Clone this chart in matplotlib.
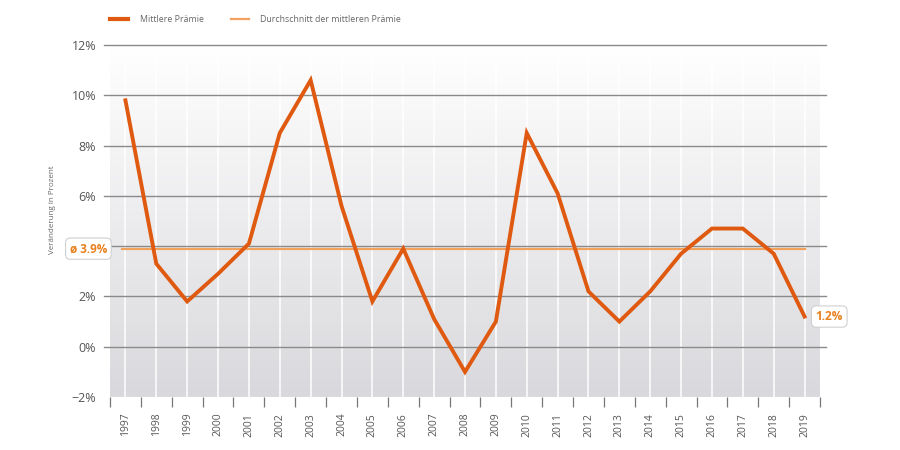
import numpy as np
import matplotlib
matplotlib.use("Agg")
import matplotlib.pyplot as plt
from matplotlib.transforms import blended_transform_factory
from matplotlib.colors import LinearSegmentedColormap

plt.rcParams['font.family'] = ['Open Sans', 'DejaVu Sans']

years = list(range(1997, 2020))
praemie = [9.8, 3.3, 1.8, 2.9, 4.1, 8.5, 10.6, 5.6, 1.8, 3.9, 1.1, -1.0, 1.0,
           8.5, 6.1, 2.2, 1.0, 2.2, 3.7, 4.7, 4.7, 3.7, 1.2]
durchschnitt = 3.9
yticks = [-2, 0, 2, 4, 6, 8, 10, 12]
ytick_labels = ['\u22122%', '0%', '2%', '', '6%', '8%', '10%', '12%']
legend_labels = ['Mittlere Prämie', 'Durchschnitt der mittleren Prämie']
ylabel = 'Veränderung in Prozent'

main_col = '#df5a10'
avg_col = '#f2a25c'
lab_col = '#e8801e'
txt_col = '#555555'

fig = plt.figure(figsize=(9, 4.5), dpi=100)
ax = fig.add_axes([110/900, 53/450, 710/900, 352/450])
ax.set_xlim(years[0] - 0.5, years[-1] + 0.5)
ax.set_ylim(-2, 12)

# gradient background
grad = np.linspace(0, 1, 256).reshape(-1, 1)
cmap = LinearSegmentedColormap.from_list('g', ['#d9d9dd', '#ffffff'])
ax.imshow(grad, aspect='auto', cmap=cmap, origin='lower',
          extent=[0, 1, 0, 1], transform=ax.transAxes, zorder=0)

# white vertical gridlines at each year
for yv in years:
    ax.axvline(yv, color='white', lw=1.2, zorder=1, alpha=0.9)

# horizontal gridlines extending slightly left
tr = blended_transform_factory(ax.transAxes, ax.transData)
for yt in yticks[1:]:
    ax.plot([-0.008, 1.008], [yt, yt], color='#8a8a8a', lw=1.0,
            transform=tr, clip_on=False, zorder=2)

# average line
ax.plot([years[0] - 0.1, years[-1]], [durchschnitt, durchschnitt],
        color=avg_col, lw=1.6, zorder=3)
# main line
ax.plot(years, praemie, color=main_col, lw=2.8, zorder=4,
        solid_joinstyle='miter')

for s in ax.spines.values():
    s.set_visible(False)

ax.set_yticks(yticks)
ax.set_yticklabels(ytick_labels)
ax.tick_params(axis='y', length=0, pad=10, labelsize=9, colors=txt_col)

ax.set_xticks([y - 0.5 for y in years] + [years[-1] + 0.5])
ax.set_xticklabels([])
ax.tick_params(axis='x', length=7, width=0.9, color='#777777', direction='out')
for yv in years:
    ax.text(yv, -0.045, str(yv), transform=ax.get_xaxis_transform(),
            rotation=90, ha='center', va='top', fontsize=7.5, color=txt_col)

fig.text(52/900, 1 - 210/450, ylabel, rotation=90, ha='center', va='center',
         fontsize=5.8, color='#666666')

# annotations
ax.text(years[0] - 1.2, durchschnitt, 'ø 3.9%', ha='center', va='center',
        fontsize=8.5, fontweight='bold', color=lab_col, clip_on=False, zorder=6,
        bbox=dict(boxstyle='round,pad=0.35,rounding_size=0.4', fc='white',
                  ec='#d0d0d0', lw=0.8))
ax.text(years[-1] + 0.8, praemie[-1], '1.2%', ha='center', va='center',
        fontsize=8.5, fontweight='bold', color=lab_col, clip_on=False, zorder=6,
        bbox=dict(boxstyle='round,pad=0.35,rounding_size=0.4', fc='white',
                  ec='#d0d0d0', lw=0.8))

# legend
fig.lines.append(plt.Line2D([110/900, 128/900], [1 - 19/450] * 2, color=main_col,
                            lw=3, transform=fig.transFigure))
fig.text(140/900, 1 - 19/450, legend_labels[0], fontsize=6.3, color='#666666',
         va='center')
fig.lines.append(plt.Line2D([231/900, 249/900], [1 - 19/450] * 2, color=avg_col,
                            lw=1.6, transform=fig.transFigure))
fig.text(260/900, 1 - 19/450, legend_labels[1], fontsize=6.3, color='#666666',
         va='center')

fig.savefig('out.png', dpi=100, facecolor='white')
